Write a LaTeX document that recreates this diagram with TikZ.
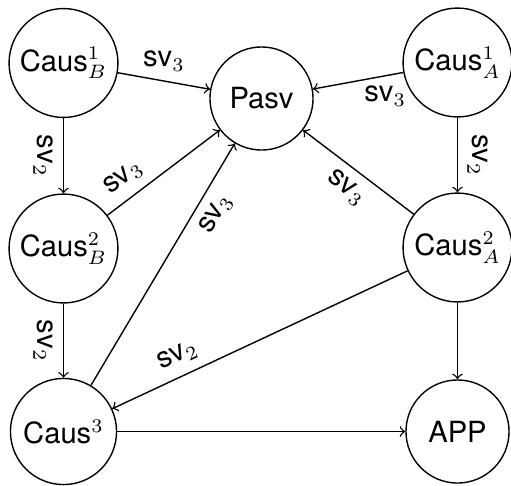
\documentclass[tikz,border=0pt]{standalone}
\usepackage{fontspec}
\setmainfont{TeX Gyre Heros}
\begin{document}
\begin{tikzpicture}[x=0.36pt,y=-0.36pt, line width=0.5pt,
  font=\fontsize{10.5}{12.6}\selectfont,
  state/.style={circle, draw, inner sep=1pt, minimum size=37.1pt},
  big/.style={minimum size=39.2pt}]
\useasboundingbox (0,0) rectangle (511,485);
\node[state,big] (b1) at (63.5,63) {Caus$^1_B$};
\node[state] (p) at (261.5,98.5) {Pasv};
\node[state,big] (a1) at (457.5,62.5) {Caus$^1_A$};
\node[state,big] (b2) at (63.5,248.5) {Caus$^2_B$};
\node[state,big] (a2) at (457.5,247.5) {Caus$^2_A$};
\node[state,minimum size=38.2pt] (c3) at (63.5,431.5) {Caus$^3$};
\node[state] (app) at (457.5,431.5) {APP};
\draw[->] (b1) -- node[above]{sv$_3$} (p);
\draw[->] (a1) -- node[below,pos=0.2]{sv$_3$} (p);
\draw[->] (b1) -- node[rotate=-90,anchor=north]{sv$_2$} (b2);
\draw[->] (a1) -- node[rotate=-90,anchor=south]{sv$_2$} (a2);
\draw[->] (b2) -- node[sloped,above,pos=0.25]{sv$_3$} (p);
\draw[->] (c3) -- node[sloped,below,pos=0.75]{sv$_3$} (p);
\draw[->] (a2) -- node[sloped,below]{sv$_3$} (p);
\draw[->] (b2) -- node[rotate=-90,anchor=north]{sv$_2$} (c3);
\draw[->] (a2) -- node[sloped,above,pos=0.75]{sv$_2$} (c3);
\draw[->] (a2) -- (app);
\draw[->] (c3) -- (app);
\end{tikzpicture}
\end{document}
